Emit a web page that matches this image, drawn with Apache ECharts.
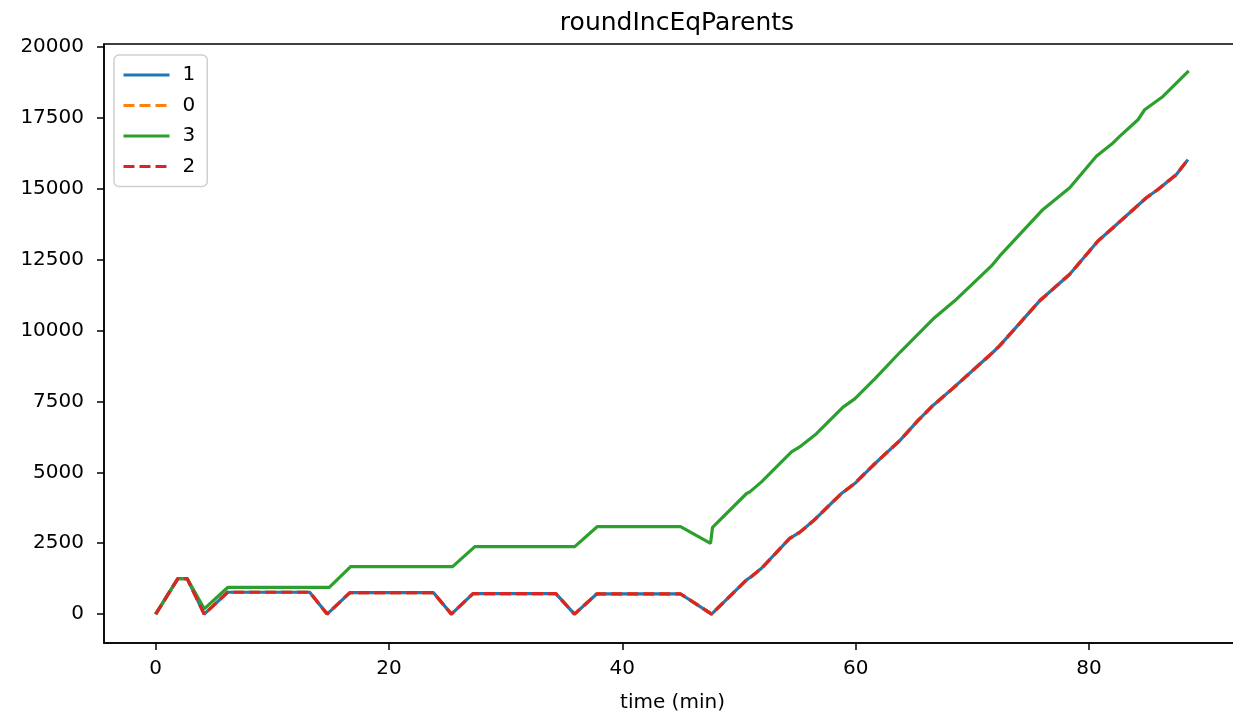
<!DOCTYPE html>
<html>
<head>
<meta charset="utf-8">
<script src="https://cdn.jsdelivr.net/npm/echarts@6/dist/echarts.min.js"></script>
<style>
html,body{margin:0;padding:0;background:#fff;overflow:hidden;width:1233px;height:718px;}
#chart{width:1250px;height:718px;}
</style>
</head>
<body>
<div id="chart"></div>
<script>
// ---- data (time in minutes, value) ----
const redTimes = [0, 1.9, 2.7, 4.16, 6.17, 13.2, 14.7, 16.65, 23.8, 25.35, 27.2, 34.3, 35.9, 37.8, 45.0, 47.65,
  50.65, 51.07, 51.93, 54.35, 55.2, 56.35, 58.78, 59.92, 61.5, 63.8, 65.35, 66.63, 68.35, 71.77, 72.35,
  75.77, 78.35, 80.77, 82.06, 84.92, 85.91, 87.49, 88.48];
const redValues = [0, 1250, 1250, 0, 770, 770, 0, 760, 760, 0, 720, 720, 0, 710, 710, 0,
  1207, 1325, 1617, 2671, 2882, 3280, 4253, 4605, 5248, 6127, 6830, 7357, 7968, 9234, 9466,
  11048, 11986, 13157, 13627, 14681, 14974, 15501, 16028];
const greenTimes = [0, 1.9, 2.7, 4.16, 6.17, 14.88, 16.71, 25.45, 27.36, 35.92, 37.84, 44.99, 47.56, 47.73,
  50.65, 50.93, 51.93, 54.5, 55.2, 56.64, 58.92, 59.92, 61.64, 63.8, 66.63, 68.49, 71.64, 72.35,
  76.06, 78.35, 80.63, 82.06, 82.63, 84.2, 84.77, 86.34, 88.55];
const greenValues = [0, 1250, 1250, 185, 940, 940, 1675, 1675, 2380, 2380, 3083, 3083, 2495, 3060,
  4253, 4311, 4663, 5718, 5894, 6362, 7300, 7592, 8295, 9234, 10404, 11048, 12278, 12630,
  14270, 15033, 16144, 16614, 16848, 17434, 17786, 18254, 19157];

const series1 = redValues;   // "1"
const series0 = redValues;   // "0"
const series3 = greenValues; // "3"
const series2 = redValues;   // "2"

const xTicks = [0, 20, 40, 60, 80];
const yTicks = [0, 2500, 5000, 7500, 10000, 12500, 15000, 17500, 20000];

const pairs = (t, v) => t.map((x, i) => [x, v[i]]);

const FONT = 'DejaVu Sans';
const chart = echarts.init(document.getElementById('chart'), null, {renderer: 'canvas'});

const mk = (name, t, v, color, dashed) => ({
  name: name,
  type: 'line',
  data: pairs(t, v),
  symbol: 'none',
  showSymbol: false,
  animation: false,
  lineStyle: {color: color, width: 3.2, type: dashed ? [11, 5] : 'solid', cap: 'butt'},
  itemStyle: {color: color},
  emphasis: {disabled: true}
});

chart.setOption({
  animation: false,
  backgroundColor: '#fff',
  title: {
    text: 'roundIncEqParents',
    left: 672,
    textAlign: 'center',
    top: 6,
    textStyle: {fontFamily: FONT, fontSize: 25, fontWeight: 'normal', color: '#000'}
  },
  legend: {
    orient: 'vertical',
    left: 114,
    top: 55,
    padding: [10, 12, 10, 8],
    itemWidth: 46,
    itemHeight: 16,
    itemGap: 10.5,
    backgroundColor: '#fff',
    borderColor: '#d0d0d0',
    borderWidth: 1.5,
    borderRadius: 5,
    itemStyle: {opacity: 0},
    lineStyle: {width: 3},
    textStyle: {fontFamily: FONT, fontSize: 20, color: '#000', padding: [0, 0, 0, 8]},
    data: ['1', '0', '3', '2']
  },
  grid: {left: 104, top: 44, height: 601, width: 1137, containLabel: false,
    show: true, borderColor: '#000', borderWidth: 1.5, backgroundColor: 'transparent'},
  xAxis: {
    type: 'value',
    min: -4.43,
    max: 93.03,
    name: 'time (min)',
    nameLocation: 'middle',
    nameGap: 50,
    nameTextStyle: {fontFamily: FONT, fontSize: 20, color: '#000'},
    axisLine: {show: true, onZero: false, lineStyle: {color: '#000', width: 1.5}},
    axisTick: {show: true, length: 7, inside: false, lineStyle: {color: '#000', width: 1.5}, customValues: xTicks},
    axisLabel: {fontFamily: FONT, fontSize: 20, color: '#000', margin: 16, customValues: xTicks,
      formatter: v => String(v)},
    splitLine: {show: false}
  },
  yAxis: {
    type: 'value',
    min: -1019,
    max: 20105,
    axisLine: {show: true, onZero: false, lineStyle: {color: '#000', width: 1.5}},
    axisTick: {show: true, length: 7, inside: false, lineStyle: {color: '#000', width: 1.5}, customValues: yTicks},
    axisLabel: {fontFamily: FONT, fontSize: 20, color: '#000', margin: 20, customValues: yTicks,
      formatter: v => String(v)},
    splitLine: {show: false}
  },
  series: [
    mk('1', redTimes, series1, '#1f77b4', false),
    mk('0', redTimes, series0, '#ff7f0e', true),
    mk('3', greenTimes, series3, '#2ca02c', false),
    mk('2', redTimes, series2, '#d62728', true)
  ]
});
</script>
</body>
</html>
